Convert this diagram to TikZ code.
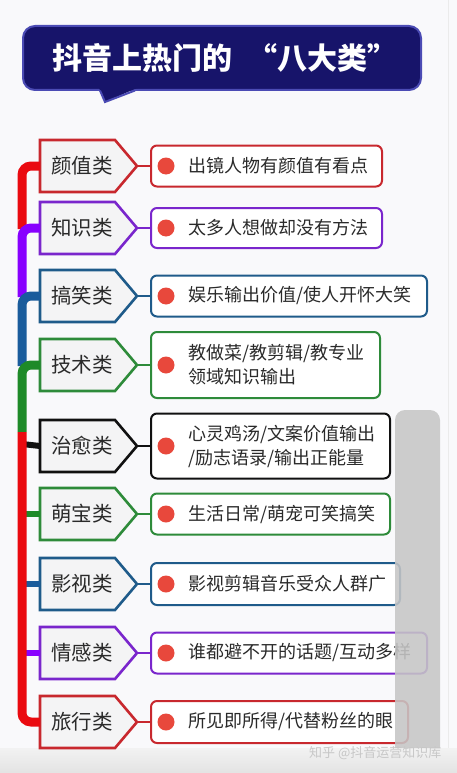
\documentclass[tikz,border=0pt]{standalone}
\usepackage{fontspec}
\newfontfamily\cjk{Noto Sans CJK SC}
\definecolor{bgc}{HTML}{F9F9FB}
\definecolor{titlefill}{HTML}{17146A}
\definecolor{titleborder}{HTML}{4B4BB4}
\definecolor{txt}{HTML}{2A2A2A}
\definecolor{catfill}{HTML}{F4F4F5}
\definecolor{dotc}{HTML}{E8483C}
\definecolor{redT}{HTML}{EA0A10}
\definecolor{redB}{HTML}{C8282E}
\definecolor{purT}{HTML}{8800FF}
\definecolor{purB}{HTML}{7A26CC}
\definecolor{bluT}{HTML}{1A5C9C}
\definecolor{bluB}{HTML}{1F5B8A}
\definecolor{grnT}{HTML}{1E8A28}
\definecolor{grnB}{HTML}{2E8B3A}
\definecolor{blkB}{HTML}{111111}
\definecolor{sbgray}{HTML}{C6C6C6}
\tikzset{
 catshape/.style={line width=2.6pt, fill=catfill, line join=miter},
 cattext/.style={font=\cjk\fontsize{20.5}{24}\selectfont, text=txt, inner sep=0pt},
 box/.style={line width=2pt, rounded corners=6pt, fill=white, inner sep=0pt, anchor=west},
 boxtext/.style={font=\cjk\fontsize{18}{24}\selectfont, text=txt, inner sep=0pt, anchor=west, align=left},
 dot/.style={circle, fill=dotc, minimum size=17pt, inner sep=0pt},
 link/.style={line width=1.6pt},
 trunk/.style={line width=9pt, rounded corners=9pt},
 stub/.style={line width=6pt}
}
\newcommand\mkcat[7]{%
 \draw[catshape, draw=#3] (40,#2-26) -- (115,#2-26) -- (137,#2) -- (115,#2+26) -- (40,#2+26) -- cycle;
 \node[cattext] (c#1) at (82,#2) {#4};
 \coordinate (t#1) at (137,#2);
 \coordinate (l#1) at (40,#2);
 \node[box, draw=#3, minimum width=#5-150, minimum height=#6] (b#1) at (150,#2) {};
 \node[dot] (d#1) at (166,#2) {};
 \node[boxtext] (x#1) at (188,#2) {#7};
 \draw[link, #3] (t#1) -- (b#1.west);
}
\begin{document}
\begin{tikzpicture}[x=1pt,y=-1pt]
\useasboundingbox (0,0) rectangle (457,773);
\fill[bgc] (0,0) rectangle (457,773);
\draw[black!8, line width=1pt] (448.5,0) -- (448.5,748);
\shade[top color=black!5, bottom color=black!11] (0,748) rectangle (457,773);
% title
\draw[line width=2pt, draw=titleborder, fill=titlefill, rounded corners=12pt] (23,26) rectangle (421,90);
\fill[titlefill] (99,88) -- (105,102) -- (137,88) -- cycle;
\draw[line width=2pt, titleborder, line join=miter] (100,90.5) -- (105,102) -- (135,90.5);
\node[font=\cjk\bfseries\fontsize{30}{34}\selectfont, text=white, inner sep=0pt] (title) at (225,58) {抖音上热门的\hspace{16pt}“八大类”};
% categories
\mkcat{1}{166}{redB}{颜值类}{381}{41}{出镜人物有颜值有看点}
\mkcat{2}{228}{purB}{知识类}{381}{40}{太多人想做却没有方法}
\mkcat{3}{296}{bluB}{搞笑类}{426}{41}{娱乐输出价值/使人开怀大笑}
\mkcat{4}{365}{grnB}{技术类}{379}{66}{教做菜/教剪辑/教专业\\领域知识输出}
\mkcat{5}{446}{blkB}{治愈类}{389}{65}{心灵鸡汤/文案价值输出\\/励志语录/输出正能量}
\mkcat{6}{514}{grnB}{萌宝类}{389}{41}{生活日常/萌宠可笑搞笑}
\mkcat{7}{584}{bluB}{影视类}{399}{42}{影视剪辑音乐受众人群广}
\mkcat{8}{653}{purB}{情感类}{426}{41}{谁都避不开的话题/互动多样}
\mkcat{9}{722}{redB}{旅行类}{407}{42}{所见即所得/代替粉丝的眼}
% trunk
\draw[trunk, redT] (l1) -- (22,166) -- (22,229);
\draw[trunk, purT] (l2) -- (22,228) -- (22,297);
\draw[trunk, bluT] (l3) -- (22,296) -- (22,366);
\draw[trunk, grnT] (l4) -- (22,365) -- (22,432);
\draw[stub, blkB] (22,444) -- (l5);
\draw[stub, grnT] (22,514) -- (l6);
\draw[stub, bluT] (22,584) -- (l7);
\draw[stub, purT] (22,653) -- (l8);
\draw[trunk, redT] (22,432) -- (22,722) -- (l9);
% scrollbar overlay
\fill[sbgray, opacity=0.88, rounded corners=10pt] (395,748) -- (395,410) -- (440,410) -- (440,748);
\node[font=\cjk\fontsize{13}{15}\selectfont, text=black!22, inner sep=0pt, anchor=west] (wm) at (309,753) {知乎 @抖音运营知识库};
\end{tikzpicture}
\end{document}
